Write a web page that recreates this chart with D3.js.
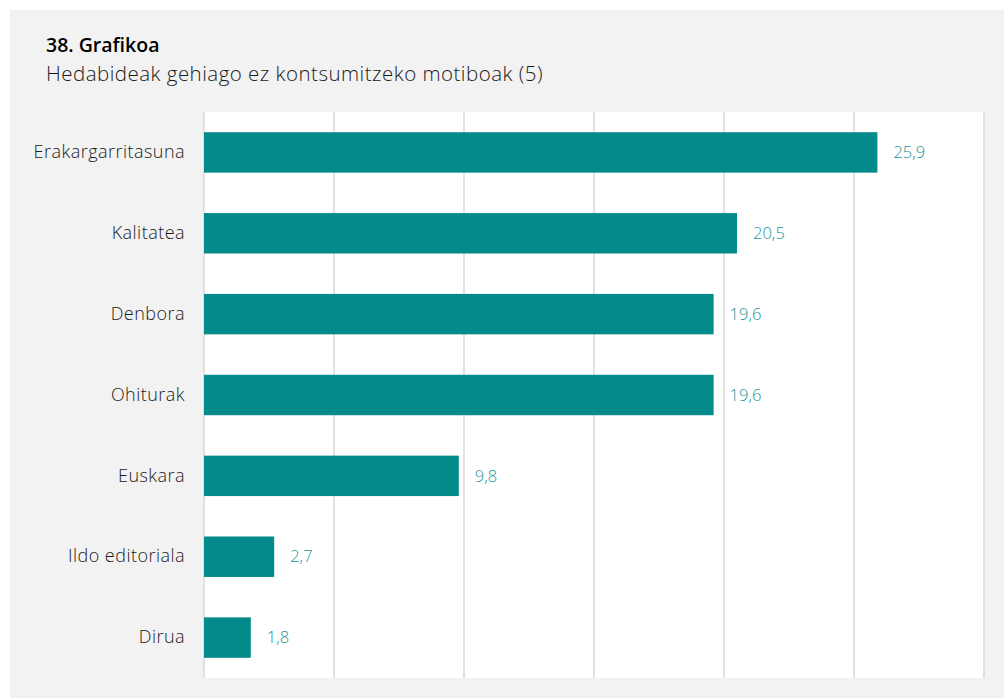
<!DOCTYPE html>
<html>
<head>
<meta charset="utf-8">
<script src="https://cdn.jsdelivr.net/npm/d3@7"></script>
<style>
  html, body { margin: 0; padding: 0; background: #ffffff; }
  svg { display: block; }
  text { font-family: "Open Sans", "Noto Sans", sans-serif; }
</style>
</head>
<body>
<svg id="chart" width="1004" height="698"></svg>
<script>
// Reasons for no longer consuming media (%)
const categories = ["Erakargarritasuna", "Kalitatea", "Denbora", "Ohiturak", "Euskara", "Ildo editoriala", "Dirua"];
const values = [25.9, 20.5, 19.6, 19.6, 9.8, 2.7, 1.8];
const gridTicks = [0, 5, 10, 15, 20, 25, 30];
const title = "38. Grafikoa";
const subtitle = "Hedabideak gehiago ez kontsumitzeko motiboak (5)";

const svg = d3.select("#chart");
const W = 1004, H = 698;
const plot = { left: 204, right: 984, top: 112, bottom: 678 };

// Panel background
svg.append("rect").attr("x", 10).attr("y", 10).attr("width", W - 10).attr("height", H - 10)
  .attr("fill", "#f2f2f2");

// Plot area
svg.append("rect").attr("x", plot.left).attr("y", plot.top)
  .attr("width", plot.right - plot.left).attr("height", plot.bottom - plot.top)
  .attr("fill", "#ffffff");

// Titles
svg.append("text").attr("x", 46).attr("y", 52)
  .attr("font-size", 19.5).attr("font-weight", 600).attr("fill", "#000")
  .text(title);
svg.append("text").attr("x", 46).attr("y", 81)
  .attr("font-size", 20.5).attr("font-weight", 300).attr("fill", "#1a1a1a")
  .attr("letter-spacing", 0.48)
  .text(subtitle);

const x = d3.scaleLinear().domain([0, 30]).range([plot.left, plot.right]);
const y = d3.scaleBand().domain(categories).range([plot.top, plot.bottom]).paddingInner(0.5).paddingOuter(0.25);

// Vertical gridlines
svg.append("g").selectAll("line").data(gridTicks).join("line")
  .attr("x1", d => x(d)).attr("x2", d => x(d))
  .attr("y1", plot.top).attr("y2", plot.bottom)
  .attr("stroke", "#d9d9d9").attr("stroke-width", 1.5);

// Category axis
const yAxis = d3.axisLeft(y).tickSize(0).tickPadding(19);
const gy = svg.append("g").attr("transform", `translate(${plot.left},0)`).call(yAxis);
gy.select(".domain").remove();
gy.selectAll("text").attr("font-size", 18).attr("font-weight", 300).attr("fill", "#1a1a1a")
  .attr("letter-spacing", 0.47)
  .attr("font-family", "\"Open Sans\", sans-serif");

// Bars
svg.append("g").selectAll("rect").data(values).join("rect")
  .attr("x", x(0)).attr("y", (d, i) => y(categories[i]))
  .attr("width", d => x(d) - x(0)).attr("height", y.bandwidth())
  .attr("fill", "#038a8a");

// Value labels
svg.append("g").selectAll("text").data(values).join("text")
  .attr("x", d => x(d) + 16).attr("y", (d, i) => y(categories[i]) + y.bandwidth() / 2)
  .attr("dy", "0.35em").attr("font-size", 16.5).attr("font-weight", 300).attr("fill", "#22969a")
  .text(d => d3.format(".1f")(d).replace(".", ","));
</script>
</body>
</html>
